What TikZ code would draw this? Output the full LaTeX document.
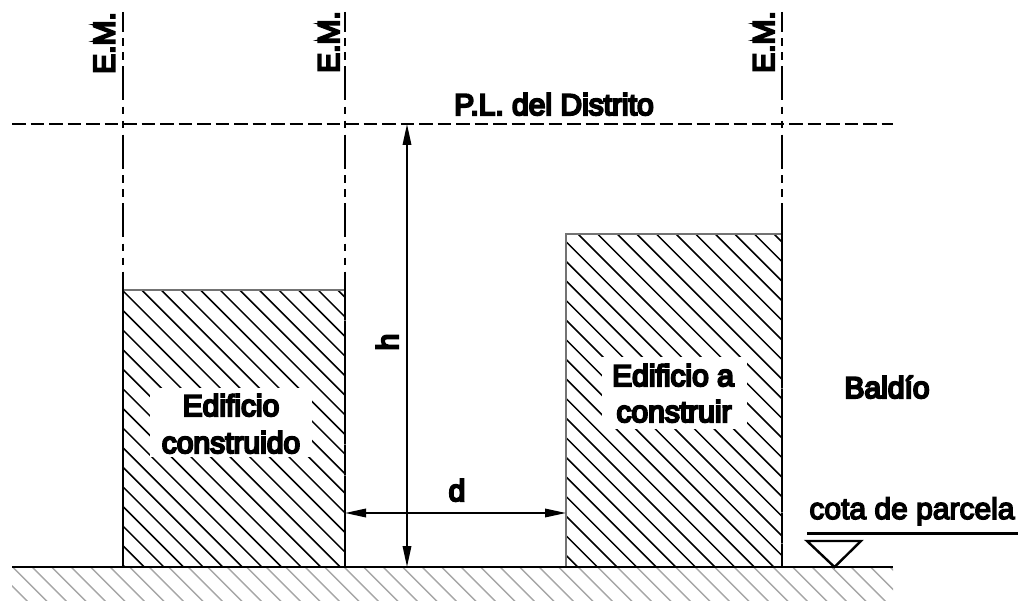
\documentclass[tikz,border=0pt]{standalone}
\usepackage{fontspec}
\usetikzlibrary{arrows.meta}
\newfontfamily\lab{Liberation Sans}[FakeBold=7]
\newfontfamily\labthin{Liberation Sans}[FakeBold=5]
\tikzset{
  every node/.style={inner sep=0pt,font=\lab\fontsize{30}{30}\selectfont},
  lbl/.style={anchor=base,align=center},
  axisline/.style={line width=2pt,dash pattern=on 34pt off 6.5pt on 7.5pt off 6.5pt on 7.5pt off 6.5pt,dash phase=14.3pt},
  plline/.style={line width=1.8pt,dash pattern=on 13.5pt off 5pt},
  hatchline/.style={line width=1.5pt,black},
  groundhatch/.style={line width=1.4pt,color=black!35},
  outline/.style={line width=1.2pt,color=black!55},
  groundline/.style={line width=2.5pt},
  dim/.style={line width=1.8pt,{Triangle[length=21pt,width=8.5pt]}-{Triangle[length=21pt,width=8.5pt]}},
}
\begin{document}
\begin{tikzpicture}[x=1pt,y=-1pt]
\useasboundingbox (0,0) rectangle (1018,601);
% ground hatch
\begin{scope}
\clip (12,567) rectangle (893,601);
\foreach \k in {-2,...,46} \draw[groundhatch] ({12.7+19.5*\k},567) -- ++(45,45);
\end{scope}
% building hatches
\begin{scope}
\clip (123,290) rectangle (345,567);
\foreach \k in {-15,...,20} \draw[hatchline] ({141.7+19.6*\k},290) -- ++(300,300);
\end{scope}
\fill[white] (150,388) rectangle (312,457);
\begin{scope}
\clip (566,234) rectangle (782,567);
\foreach \k in {-18,...,20} \draw[hatchline] ({578+19.6*\k},234) -- ++(350,350);
\end{scope}
\fill[white] (602,357) rectangle (747,429);
\draw[outline] (123,567) -- (123,290) -- (345,290) -- (345,567);
\draw[outline] (566,567) -- (566,234) -- (782,234) -- (782,567);
\draw[line width=2pt] (123,290) -- (123,567);
\draw[line width=2pt,dash pattern=on 30pt off 1pt] (345,290) -- (345,567);
\draw[line width=2pt,dash pattern=on 30pt off 1pt] (782,234) -- (782,567);
% named points
\coordinate (a1t) at (123,12); \coordinate (a1b) at (123,567);
\coordinate (a2t) at (345,12); \coordinate (a2b) at (345,567);
\coordinate (a3t) at (782,12); \coordinate (a3b) at (782,567);
\coordinate (plL) at (12,124); \coordinate (plR) at (893,124);
\coordinate (grL) at (12,567); \coordinate (grR) at (893,567);
\coordinate (hT) at (407,124); \coordinate (hB) at (407,567);
\coordinate (dL) at (345,513); \coordinate (dR) at (566,513);
\coordinate (cL) at (807,533); \coordinate (cR) at (1018,533);
\coordinate (t1) at (807,541); \coordinate (t2) at (861,541); \coordinate (t3) at (834.5,567);
\draw[axisline] (a1t) -- (a1b);
\draw[axisline] (a2t) -- (a2b);
\draw[axisline] (a3t) -- (a3b);
\draw[plline] (plL) -- (plR);
\draw[groundline] (grL) -- (grR);
\draw[dim] (hT) -- (hB);
\draw[dim] (dL) -- (dR);
\draw[line width=3pt] (cL) -- (cR);
\draw[line width=2.4pt,line join=miter] (t1) -- (t2) -- (t3) -- cycle;
% labels
\node[lbl,rotate=90] (em1) at (114.5,43) {E.M.};
\node[lbl,rotate=90] (em2) at (339,42) {E.M.};
\node[lbl,rotate=90] (em3) at (774,42) {E.M.};
\node[lbl] (pl) at (554,115) {P.L. del Distrito};
\node[lbl,rotate=90] (h) at (398,342) {h};
\node[lbl] (d) at (457,501) {d};
\node[lbl] (e1a) at (231,416) {Edificio};
\node[lbl] (e1b) at (231,453) {construido};
\node[lbl] (e2a) at (673,386) {Edificio a};
\node[lbl] (e2b) at (674,422) {construir};
\node[lbl] (b) at (887,398) {Baldío};
\node[lbl,font=\labthin\fontsize{30}{30}\selectfont] (c) at (912,519) {cota de parcela};
\end{tikzpicture}
\end{document}
